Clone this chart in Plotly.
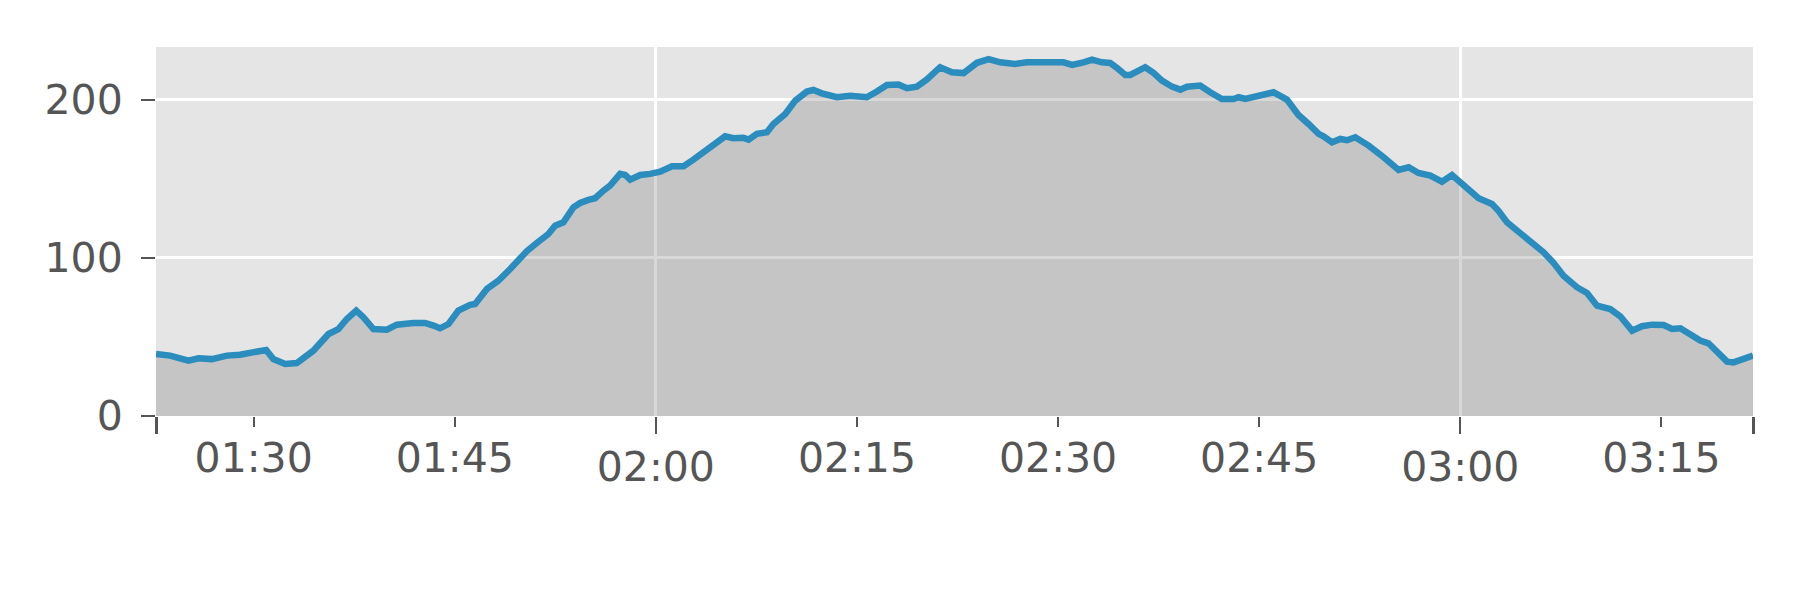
import plotly.graph_objects as go

DAY = "2024-01-01 "

times = [
    "01:22:43", "01:23:46", "01:25:08", "01:25:53", "01:26:53", "01:28:00", "01:28:59", "01:29:59",
    "01:30:56", "01:31:28", "01:32:21", "01:33:13", "01:33:43", "01:34:27", "01:35:35", "01:36:19",
    "01:36:57", "01:37:39", "01:38:11", "01:38:56", "01:39:56", "01:40:41", "01:41:55", "01:42:47",
    "01:43:25", "01:43:54", "01:44:32", "01:45:16", "01:46:09", "01:46:31", "01:47:24", "01:48:15",
    "01:49:08", "01:50:23", "01:51:07", "01:51:59", "01:52:29", "01:53:06", "01:53:51", "01:54:21",
    "01:54:58", "01:55:28", "01:56:05", "01:56:35", "01:57:20", "01:57:43", "01:58:05", "01:58:50",
    "01:59:34", "02:00:19", "02:01:12", "02:02:04", "02:02:48", "02:03:33", "02:04:18", "02:05:10",
    "02:05:47", "02:06:32", "02:06:55", "02:07:32", "02:08:17", "02:08:46", "02:09:39", "02:10:24",
    "02:11:16", "02:11:45", "02:12:23", "02:13:30", "02:14:30", "02:15:44", "02:16:29", "02:17:14",
    "02:18:06", "02:18:44", "02:19:28", "02:20:13", "02:21:12", "02:22:05", "02:22:57", "02:23:57",
    "02:24:49", "02:25:41", "02:26:48", "02:27:41", "02:30:24", "02:31:03", "02:31:54", "02:32:32",
    "02:33:16", "02:33:53", "02:34:23", "02:35:01", "02:35:23", "02:36:08", "02:36:30", "02:37:07",
    "02:37:45", "02:38:30", "02:39:07", "02:39:37", "02:40:36", "02:41:21", "02:42:13", "02:43:05",
    "02:43:28", "02:43:58", "02:44:50", "02:45:27", "02:46:04", "02:47:04", "02:47:56", "02:48:41",
    "02:49:26", "02:49:48", "02:50:26", "02:51:03", "02:51:33", "02:52:10", "02:53:10", "02:54:17",
    "02:55:24", "02:56:09", "02:56:53", "02:57:46", "02:58:38", "02:59:23", "03:00:15", "03:01:22",
    "03:02:22", "03:02:51", "03:03:29", "03:04:21", "03:05:13", "03:06:13", "03:06:58", "03:07:42",
    "03:08:42", "03:09:27", "03:10:12", "03:11:11", "03:11:56", "03:12:49", "03:13:33", "03:14:18",
    "03:15:10", "03:15:48", "03:16:25", "03:17:10", "03:17:54", "03:18:31", "03:19:09", "03:19:54",
    "03:20:23", "03:21:01", "03:21:50",
]

values = [
    39.2, 38.2, 35.0, 36.5, 36.0, 38.2, 38.8, 40.7,
    41.8, 36.0, 32.9, 33.5, 37.1, 41.3, 51.9, 55.0,
    61.4, 66.7, 62.5, 55.0, 54.6, 57.8, 58.9, 58.9,
    57.2, 55.5, 58.2, 66.7, 70.3, 70.9, 80.4, 85.6,
    93.0, 104.4, 109.5, 115.2, 120.4, 122.6, 132.0, 134.8,
    136.7, 137.8, 142.6, 145.8, 153.2, 152.5, 149.6, 152.5,
    153.2, 154.6, 158.0, 158.0, 162.2, 166.9, 171.5, 177.0,
    175.8, 176.0, 174.9, 178.5, 179.6, 184.8, 191.1, 199.6,
    205.3, 206.3, 204.2, 201.7, 202.7, 201.7, 205.3, 209.5,
    209.7, 207.4, 208.4, 213.0, 220.7, 217.5, 217.0, 223.5,
    225.8, 223.8, 222.8, 223.8, 223.8, 222.2, 223.8, 225.5,
    223.8, 223.4, 220.3, 215.8, 215.8, 219.6, 220.7, 217.1,
    212.2, 208.4, 206.5, 208.4, 209.1, 204.9, 200.6, 200.6,
    201.7, 200.6, 202.3, 202.7, 204.9, 200.2, 190.5, 184.8,
    178.5, 177.0, 173.2, 175.3, 174.5, 176.4, 171.1, 163.7,
    155.7, 157.4, 153.8, 152.1, 148.3, 152.5, 145.8, 137.8,
    134.2, 129.9, 122.6, 116.6, 110.3, 103.6, 96.8, 88.8,
    81.5, 77.8, 69.8, 67.7, 63.1, 54.0, 56.8, 57.8,
    57.6, 55.1, 55.5, 51.3, 47.7, 46.0, 40.3, 34.4,
    33.9, 35.6, 38.2,
]

major_ticks = ["02:00:00", "03:00:00"]
major_labels = ["02:00", "03:00"]
minor_ticks = ["01:30:00", "01:45:00", "02:15:00", "02:30:00", "02:45:00", "03:15:00"]
minor_labels = ["01:30", "01:45", "02:15", "02:30", "02:45", "03:15"]
y_ticks = [0, 100, 200]

x = [DAY + t for t in times]
x_start, x_end = x[0], x[-1]

FONT = "DejaVu Sans"
TXT = "#555555"

fig = go.Figure()
fig.add_trace(go.Scatter(
    x=x, y=values, mode="lines", fill="tozeroy",
    fillcolor="rgba(111,111,111,0.27)",
    line=dict(color="#2b8cbe", width=6.5),
    showlegend=False, hoverinfo="skip",
))
fig.add_trace(go.Scatter(
    x=x, y=values, mode="lines", xaxis="x2", opacity=0,
    line=dict(width=0), showlegend=False, hoverinfo="skip",
))

fig.update_layout(
    width=1800, height=600,
    margin=dict(l=148, r=55, t=39, b=192),
    paper_bgcolor="white", plot_bgcolor="#e5e5e5",
    font=dict(family=FONT, color=TXT, size=41),
    xaxis=dict(
        type="date", range=[x_start, x_end], automargin=False,
        tickvals=[DAY + t for t in major_ticks], ticktext=major_labels,
        ticks="outside", ticklen=17, tickwidth=2, tickcolor=TXT,
        showgrid=True, gridcolor="white", gridwidth=2.5,
        showline=False, zeroline=False,
        tickfont=dict(family=FONT, size=41, color=TXT),
        ticklabelstandoff=-2,
        minor=dict(tickvals=[x_start, x_end], ticks="outside", ticklen=17,
                   tickwidth=3, tickcolor=TXT, showgrid=False),
    ),
    xaxis2=dict(
        type="date", overlaying="x", matches="x", side="bottom", anchor="y",
        range=[x_start, x_end], automargin=False,
        tickvals=[DAY + t for t in minor_ticks], ticktext=minor_labels,
        ticks="outside", ticklen=10, tickwidth=2, tickcolor=TXT,
        showgrid=False, showline=False, zeroline=False,
        tickfont=dict(family=FONT, size=41, color=TXT),
        ticklabelstandoff=-4,
    ),
    yaxis=dict(
        range=[0, 233.5], tickvals=y_ticks, automargin=False,
        ticks="outside", ticklen=14, tickwidth=2, tickcolor=TXT,
        showgrid=True, gridcolor="white", gridwidth=2.5,
        showline=False, zeroline=False,
        tickfont=dict(family=FONT, size=41, color=TXT),
        ticklabelstandoff=10,
    ),
)

fig.write_html("out.html")
